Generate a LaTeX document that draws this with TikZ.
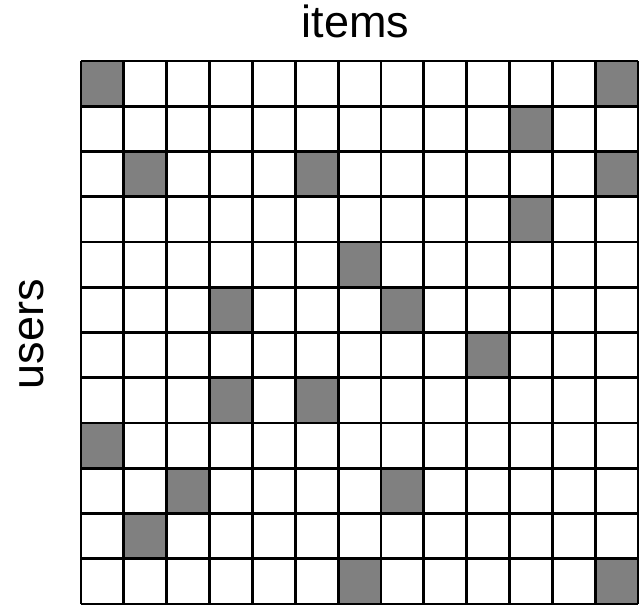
\documentclass[tikz,border=0pt]{standalone}
\usepackage{fontspec}
\setmainfont{Liberation Sans}
\definecolor{matgray}{HTML}{808080}
\def\cw{42.85}
\def\ch{45.25}

\begin{document}
\begin{tikzpicture}[
  x=0.5pt,y=-0.5pt,
  cellfill/.style={fill=matgray},
  gridline/.style={draw=black,line width=1.4pt},
  axislabel/.style={font=\fontsize{22.5}{24}\selectfont,inner sep=0pt,anchor=base},
]
\useasboundingbox (0,0) rectangle (640,604);
% filled entries (row/column)
\foreach \r/\c in {0/0,0/12,1/10,2/1,2/5,2/12,3/10,4/6,5/3,5/7,6/9,7/3,7/5,8/0,9/2,9/7,10/1,11/6,11/12}
  \fill[cellfill] ({81+\c*\cw},{61+\r*\ch}) rectangle +(\cw,\ch);
% grid
\foreach \i in {0,...,13}
  \draw[gridline] ({81+\i*\cw},61) -- ({81+\i*\cw},604);
\foreach \j in {0,...,12}
  \draw[gridline] (81,{61+\j*\ch}) -- ({81+13*\cw},{61+\j*\ch});
\node[axislabel] (items) at (355.5,38) {items};
\node[axislabel,rotate=90] (users) at (43,334) {users};
\end{tikzpicture}
\end{document}
